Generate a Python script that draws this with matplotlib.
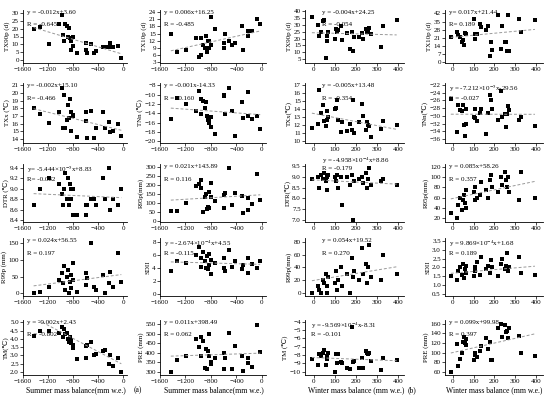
import numpy as np
import matplotlib
matplotlib.use("Agg")
import matplotlib.pyplot as plt

plt.rcParams['font.family'] = ['Liberation Serif', 'DejaVu Serif']
plt.rcParams['mathtext.fontset'] = 'stix'

# summer mass balance (mm w.e.)
xs = [-1430, -1330, -1190, -1030, -980, -955, -950, -925, -900, -880, -858, -847, -836, -830, -804,
      -794, -730, -600, -595, -580, -510, -470, -430, -320, -290, -225, -215, -160, -75, -27]
# winter mass balance (mm w.e.)
xw = [-10, 20, 25, 35, 45, 50, 55, 60, 62, 65, 100, 105, 108, 115, 130, 135, 160, 170, 180, 185,
      190, 215, 230, 235, 250, 255, 260, 265, 270, 320, 330, 395]

# summer panels
s_tx90p = [19.5, 21, 10, 23, 29, 16, 12, 23, 21.5, 15, 20.5, 14, 12, 6.5, 9, 15, 4.5, 11, 6.5, 4.5,
           10.5, 4.5, 5.5, 8.5, 8.5, 8.5, 11, 8.5, 9, 1.5]
s_tx10p = [15, 7, 8, 13, 5, 13, 6, 10, 9, 14, 7, 12, 9, 12, 22, 10, 17, 11, 9, 15, 12, 10, 11, 18, 8,
           14, 16, 16, 21, 19]
s_txx = [18.0, 17.3, 16.1, 17.5, 20.7, 15.4, 19.8, 15.5, 16.5, 18.5, 16.7, 19.2, 17.5, 15.1, 17.2,
         17.0, 14.3, 17.5, 16.4, 14.1, 17.7, 14.1, 15.5, 17.5, 15.4, 16.2, 14.9, 15.0, 16.0, 14.4]
s_tnn = [-15.3, -10.8, -12.1, -13.5, -9.3, -14.1, -10.9, -11.3, -12.8, -11.6, -14.5, -15.5, -16.0,
         -15.2, -17.0, -14.8, -18.5, -10.1, -10.4, -14.2, -8.5, -13.5, -18.8, -11.5, -15.0, -9.5,
         -14.7, -15.2, -14.5, -17.3]
s_dtr = [8.7, 9.0, 9.2, 9.1, 8.9, 8.7, 9.0, 9.3, 8.8, 9.2, 8.7, 9.1, 8.8, 9.0, 8.5, 9.0, 8.5, 8.7,
         8.5, 8.7, 8.8, 8.8, 8.7, 9.2, 8.8, 9.4, 8.6, 8.8, 8.7, 9.0]
s_r95p = [55, 55, 97, 190, 205, 180, 225, 48, 130, 150, 65, 75, 160, 70, 210, 130, 110, 140, 70, 155,
          295, 85, 155, 135, 40, 60, 125, 90, 260, 112]
s_r99p = [0, 5, 20, 40, 60, 30, 80, 10, 50, 70, 0, 35, 55, 15, 90, 40, 5, 60, 25, 45, 150, 20, 10,
          55, 0, 30, 65, 20, 120, 35]
s_sdii = [3.5, 5.0, 4.8, 6.0, 7.2, 5.5, 4.2, 6.5, 5.0, 4.0, 5.8, 3.8, 6.2, 4.5, 5.2, 3.0, 4.8, 5.5,
          4.0, 3.5, 6.8, 4.2, 5.0, 3.8, 4.5, 5.6, 3.2, 4.6, 4.0, 5.0]
s_tm = [4.2, 4.45, 4.5, 4.35, 4.75, 4.1, 4.6, 4.3, 4.35, 4.0, 3.8, 4.1, 3.95, 3.75, 3.45, 3.65, 2.75,
        3.55, 2.85, 3.6, 3.8, 3.0, 3.1, 3.25, 3.3, 2.5, 3.0, 2.35, 2.85, 2.0]
s_pre = [300, 365, 385, 470, 430, 480, 385, 460, 320, 420, 315, 410, 385, 500, 350, 340, 375, 400,
         315, 375, 505, 315, 435, 385, 305, 345, 375, 325, 545, 405]

# winter panels
w_tx90p = [36, 30, 22, 25, 33, 34, 6, 22, 18, 25, 20, 27, 25, 26, 29, 19, 24, 12, 25, 11, 21, 21, 24,
           20, 27, 25, 26, 28, 23, 14, 29, 34]
w_tx10p = [22, 26, 23, 22, 17, 19, 15, 25, 24, 24, 37, 20, 24, 24, 33, 30, 28, 31, 5, 17, 10, 41, 11,
           31, 17, 17, 9, 41, 9, 37, 26, 36]
w_txx = [11.7, 12.2, 16.4, 13.5, 14.5, 12.5, 11.9, 13.8, 12.7, 13.0, 14.1, 14.2, 15.2, 12.7, 11.2,
         12.4, 11.3, 12.2, 11.4, 15.2, 11.1, 12.4, 14.7, 13.2, 11.4, 12.4, 12.1, 11.9, 10.6, 11.5,
         12.6, 12.0]
w_tnn = [-25.6, -34.2, -27.2, -28.5, -28.8, -27.2, -32.3, -35.3, -28.3, -32.1, -30.2, -30.6, -28.3,
         -31.4, -29.2, -28.1, -34.6, -29.2, -24.7, -25.8, -28.2, -31.1, -23.5, -30.4, -29.5, -32.8,
         -29.5, -27.4, -28.5, -31.1, -30.2, -32.6]
w_dtr = [8.9, 9.0, 8.5, 9.1, 8.9, 9.2, 8.8, 9.0, 8.4, 9.1, 9.0, 8.8, 9.1, 8.5, 9.0, 7.7, 9.0, 8.6,
         9.1, 7.0, 8.8, 8.9, 9.0, 8.7, 9.2, 8.5, 8.9, 9.4, 8.6, 8.8, 8.9, 8.6]
w_r95p = [30, 20, 45, 60, 35, 55, 65, 50, 40, 75, 70, 55, 80, 60, 65, 90, 75, 60, 95, 105, 80, 70,
          100, 85, 110, 95, 80, 100, 70, 55, 110, 60]
w_r99p = [0, 10, 5, 0, 20, 15, 30, 10, 0, 25, 15, 35, 5, 20, 40, 10, 30, 0, 55, 25, 35, 20, 70, 30,
          45, 15, 40, 75, 25, 20, 60, 30]
w_sdii = [1.5, 1.3, 1.8, 2.0, 1.6, 2.2, 1.4, 1.9, 1.7, 2.1, 1.5, 2.0, 1.8, 2.3, 1.6, 2.6, 1.9, 2.1,
          1.7, 2.4, 2.0, 1.5, 2.2, 2.5, 1.9, 2.1, 2.8, 1.8, 2.0, 2.6, 1.7, 1.6]
w_tm = [-8.42, -9.2, -7.9, -8.1, -7.7, -7.4, -9.2, -8.1, -8.5, -7.8, -10.0, -7.85, -9.0, -7.85, -8.8,
        -9.0, -9.5, -9.7, -4.6, -8.8, -8.7, -9.6, -8.3, -9.5, -7.5, -7.7, -7.9, -7.8, -8.7, -9.8,
        -8.4, -8.6]
w_pre = [60, 117, 72, 87, 99, 123, 133, 120, 128, 116, 84, 95, 100, 90, 103, 113, 130, 107, 122, 84,
         85, 151, 160, 133, 158, 143, 145, 131, 152, 134, 100, 92]

# (x, y, ylabel, slope, intercept, eq text, R text, yticks, ylim)
panels = [
    [(xs, s_tx90p, 'TX90p (d)', -0.012, 3.60, 'y = -0.012x+3.60', 'R = -0.645', np.arange(0, 31, 5), (-2, 32)),
     (xs, s_tx10p, 'TX10p (d)', 0.006, 16.25, 'y = 0.006x+16.25', 'R = -0.485', np.arange(3, 25, 3), (2.5, 25)),
     (xw, w_tx90p, 'TX90p (d)', -0.004, 24.25, 'y = -0.004x+24.25', 'R = -0.054', np.arange(5, 41, 5), (2, 41)),
     (xw, w_tx10p, 'TX10p (d)', 0.017, 21.44, 'y= 0.017x+21.44', 'R= 0.189', np.arange(0, 43, 7), (-1, 45))],
    [(xs, s_txx, 'TXx (℃)', -0.002, 15.10, 'y= -0.002x+15.10', 'R= -0.466', np.arange(14, 22, 1), (13.5, 21.3)),
     (xs, s_tnn, 'TNn (℃)', -0.001, -14.33, 'y = -0.001x-14.33', 'R = -0.160', np.arange(-20, -7, 2), (-20.4, -7.5)),
     (xw, w_txx, 'TXx(℃)', -0.005, 13.48, 'y = -0.005x+13.48', 'R = -0.354', np.arange(10, 18, 1), (9.8, 17.3)),
     (xw, w_tnn, 'TNn(℃)', -7.212e-5, -29.56, 'y = -7.212×10$^{-5}$x-29.56', 'R = -0.027', np.arange(-36, -21, 2), (-37, -21.5))],
    [(xs, s_dtr, 'DTR (℃)', -5.444e-5, 8.83, 'y= -5.444×10$^{-5}$x+8.83', 'R= -0.082', np.arange(8.4, 9.41, 0.2), (8.37, 9.47)),
     (xs, s_r95p, 'R95p(mm)', 0.021, 143.89, 'y = 0.021x+143.89', 'R = 0.116', np.arange(0, 301, 50), (-8, 315)),
     (xw, w_dtr, 'DTR(℃)', -4.958e-4, 8.86, 'y = -4.958×10$^{-4}$x+8.86', 'R = -0.179', np.arange(7.0, 9.51, 0.5), (6.9, 9.6)),
     (xw, w_r95p, 'R95p(mm)', 0.085, 58.26, 'y = 0.085x+58.26', 'R = 0.357', np.arange(20, 121, 20), (12, 126))],
    [(xs, s_r99p, 'R99p (mm)', 0.024, 56.55, 'y = 0.024x+56.55', 'R = 0.197', np.arange(0, 151, 50), (-8, 165)),
     (xs, s_sdii, 'SDII', -2.674e-4, 4.55, 'y = -2.674×10$^{-4}$x+4.55', 'R = -0.115', np.arange(0, 9, 2), (-0.3, 8.6)),
     (xw, w_r99p, 'R99p(mm)', 0.054, 19.52, 'y = 0.054x+19.52', 'R = 0.270', np.arange(0, 81, 20), (-5, 86)),
     (xw, w_sdii, 'SDII', 9.869e-4, 1.68, 'y = 9.869×10$^{-4}$x+1.68', 'R = 0.189', np.arange(0.5, 3.51, 0.5), (0.4, 3.65))],
    [(xs, s_tm, 'TM(℃)', -0.002, 2.43, 'y = -0.002x+2.43', 'R = -0.802', np.arange(2.0, 5.01, 0.5), (1.8, 5.15)),
     (xs, s_pre, 'PRE (mm)', 0.011, 398.49, 'y = 0.011x+398.49', 'R = 0.062', np.arange(300, 551, 50), (285, 570)),
     (xw, w_tm, 'TM (℃)', -9.569e-4, -8.31, 'y = -9.569×10$^{-4}$x-8.31', 'R = -0.101', np.arange(-10, -3, 1), (-10.4, -3.8)),
     (xw, w_pre, 'PRE (mm)', 0.099, 99.98, 'y = 0.099x+99.98', 'R = 0.397', np.arange(60, 161, 20), (53, 168))],
]

W, H = 550, 399
rows_px = [(10, 63), (83, 143), (164, 222), (238, 296), (320, 375)]
cols_px = [(23, 127), (160, 266), (305, 404), (445, 543)]
xlims = [(-1600, 64), (-1600, 64), (-43, 430), (-38, 434)]

fig = plt.figure(figsize=(W / 100, H / 100), dpi=100)

for r in range(5):
    for c in range(4):
        x, y, ylab, a, b, eq, rt, yt, yl = panels[r][c]
        t, bt = rows_px[r]
        l, rr = cols_px[c]
        ax = fig.add_axes([l / W, 1 - bt / H, (rr - l) / W, (bt - t) / H])
        ax.plot(x, y, 's', color='black', ms=2.7, mew=0)
        xl = np.array([min(x), max(x)])
        ax.plot(xl, a * xl + b, '--', color='#999999', lw=0.7, dashes=(3, 2))
        ax.set_xlim(*xlims[c])
        if c < 2:
            ax.set_xticks([-1600, -1200, -800, -400, 0])
        else:
            ax.set_xticks([0, 100, 200, 300, 400])
        ax.set_yticks(yt)
        ax.set_ylim(*yl)
        if np.any(np.array(yt) % 1 != 0):
            ax.set_yticklabels(['%.1f' % v for v in yt])
        ax.set_ylabel(ylab, fontsize=5, labelpad=1)
        ax.spines['top'].set_visible(False)
        ax.spines['right'].set_visible(False)
        for s in ('left', 'bottom'):
            ax.spines[s].set_linewidth(0.6)
        ax.tick_params(labelsize=5, length=2, width=0.5, pad=1)

        tx = 0.17 if c == 2 else 0.04
        if r == 4 and c == 2:
            tx = 0.06
        if r == 2 and c == 2:
            # equation sits above the axes here
            ax.text(tx, 1.14, eq, transform=ax.transAxes, fontsize=5, va='top', ha='left')
            ax.text(tx, 0.97, rt, transform=ax.transAxes, fontsize=5, va='top', ha='left')
        else:
            ax.text(tx, 1.0, eq, transform=ax.transAxes, fontsize=5, va='top', ha='left')
            ax.text(tx, 0.78, rt, transform=ax.transAxes, fontsize=5, va='top', ha='left')

fig.text(76 / W, 1 - 390 / H, 'Summer mass balance(mm w.e.)', fontsize=5.5, ha='center', va='center')
fig.text(214 / W, 1 - 390 / H, 'Summer mass balance(mm w.e.)', fontsize=5.5, ha='center', va='center')
fig.text(356 / W, 1 - 390 / H, 'Winter mass balance (mm w.e.)', fontsize=5.5, ha='center', va='center')
fig.text(494 / W, 1 - 390 / H, 'Winter mass balance (mm w.e.)', fontsize=5.5, ha='center', va='center')
fig.text(138 / W, 1 - 390 / H, '(a)', fontsize=5.5, ha='center', va='center')
fig.text(412 / W, 1 - 390 / H, '(b)', fontsize=5.5, ha='center', va='center')

fig.savefig('out.png', dpi=100)
